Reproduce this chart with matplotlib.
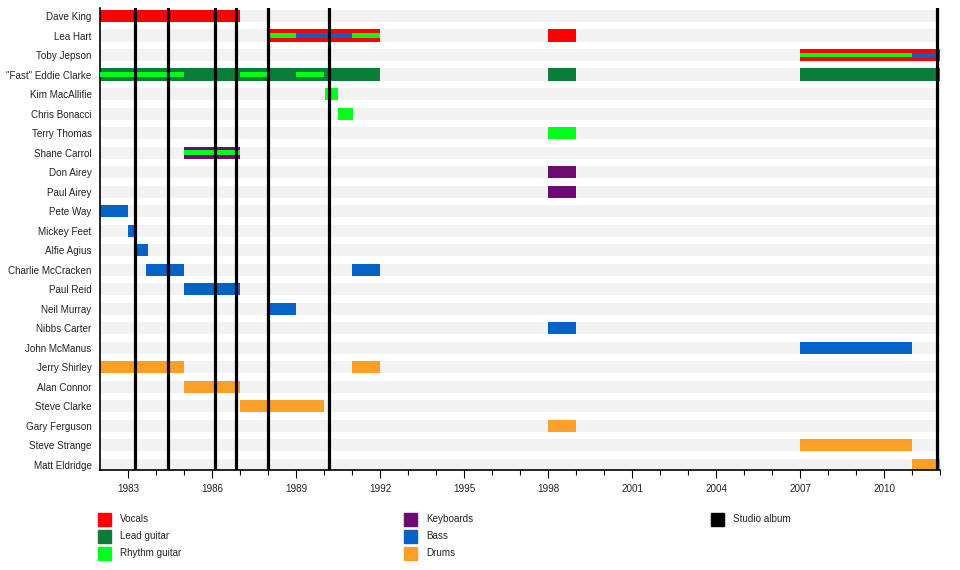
import matplotlib
matplotlib.use('Agg')
import matplotlib.pyplot as plt
from matplotlib.patches import Rectangle

plt.rcParams['font.family'] = ['Liberation Sans', 'DejaVu Sans']

## data
members = ['Dave King', 'Lea Hart', 'Toby Jepson', '"Fast" Eddie Clarke', 'Kim MacAllifie',
           'Chris Bonacci', 'Terry Thomas', 'Shane Carrol', 'Don Airey', 'Paul Airey',
           'Pete Way', 'Mickey Feet', 'Alfie Agius', 'Charlie McCracken', 'Paul Reid',
           'Neil Murray', 'Nibbs Carter', 'John McManus', 'Jerry Shirley', 'Alan Connor',
           'Steve Clarke', 'Gary Ferguson', 'Steve Strange', 'Matt Eldridge']

roles = ['Vocals', 'Lead guitar', 'Rhythm guitar', 'Keyboards', 'Bass', 'Drums']
role_colors = ['#ff0000', '#0a7d38', '#00ff1a', '#6e0a73', '#0563c8', '#fb9f28']

# (member, start, end, role) - main bars
main_spans = [
    ('Dave King', 1982, 1987, 'Vocals'),
    ('Lea Hart', 1988, 1992, 'Vocals'),
    ('Lea Hart', 1998, 1999, 'Vocals'),
    ('Toby Jepson', 2007, 2012, 'Vocals'),
    ('"Fast" Eddie Clarke', 1982, 1992, 'Lead guitar'),
    ('"Fast" Eddie Clarke', 1998, 1999, 'Lead guitar'),
    ('"Fast" Eddie Clarke', 2007, 2012, 'Lead guitar'),
    ('Kim MacAllifie', 1990.05, 1990.5, 'Rhythm guitar'),
    ('Chris Bonacci', 1990.5, 1991.05, 'Rhythm guitar'),
    ('Terry Thomas', 1998, 1999, 'Rhythm guitar'),
    ('Shane Carrol', 1985, 1987, 'Keyboards'),
    ('Don Airey', 1998, 1999, 'Keyboards'),
    ('Paul Airey', 1998, 1999, 'Keyboards'),
    ('Pete Way', 1982, 1983, 'Bass'),
    ('Mickey Feet', 1983, 1983.3, 'Bass'),
    ('Alfie Agius', 1983.3, 1983.7, 'Bass'),
    ('Charlie McCracken', 1983.65, 1985, 'Bass'),
    ('Charlie McCracken', 1991, 1992, 'Bass'),
    ('Paul Reid', 1985, 1987, 'Bass'),
    ('Neil Murray', 1988, 1989, 'Bass'),
    ('Nibbs Carter', 1998, 1999, 'Bass'),
    ('John McManus', 2007, 2011, 'Bass'),
    ('Jerry Shirley', 1982, 1985, 'Drums'),
    ('Jerry Shirley', 1991, 1992, 'Drums'),
    ('Alan Connor', 1985, 1987, 'Drums'),
    ('Steve Clarke', 1987, 1990, 'Drums'),
    ('Gary Ferguson', 1998, 1999, 'Drums'),
    ('Steve Strange', 2007, 2011, 'Drums'),
    ('Matt Eldridge', 2011, 2012, 'Drums'),
]

# secondary roles, drawn as thin stripes inside the main bar
inner_spans = [
    ('Lea Hart', 1988, 1989, 'Rhythm guitar'),
    ('Lea Hart', 1989, 1991, 'Bass'),
    ('Lea Hart', 1991, 1992, 'Rhythm guitar'),
    ('Toby Jepson', 2007, 2011, 'Rhythm guitar'),
    ('Toby Jepson', 2011, 2012, 'Bass'),
    ('"Fast" Eddie Clarke', 1982, 1985, 'Rhythm guitar'),
    ('"Fast" Eddie Clarke', 1987, 1988, 'Rhythm guitar'),
    ('"Fast" Eddie Clarke', 1989, 1990, 'Rhythm guitar'),
    ('Shane Carrol', 1985, 1987, 'Rhythm guitar'),
]

album_dates = [1983.25, 1984.43, 1986.1, 1986.86, 1988.0, 1990.18, 2011.9]

start_year = 1982
end_year = 2012
tick_years = list(range(1983, 2011, 3))

## drawing
fs = 7.1
fig = plt.figure(figsize=(9.6, 5.7), dpi=100)
ax = fig.add_axes([100 / 960, 1 - 470 / 570, 840 / 960, 462 / 570])

color_of = dict(zip(roles, role_colors))
row_of = {m: i for i, m in enumerate(members)}
bar_h = 0.62
inner_h = 0.22

# light grey band behind each row
for i in range(len(members)):
    ax.barh(i, end_year - start_year, left=start_year, height=bar_h,
            color='#f2f2f2', edgecolor='none', zorder=1)

for m, s, e, r in main_spans:
    ax.barh(row_of[m], e - s, left=s, height=bar_h, color=color_of[r],
            edgecolor='none', zorder=2)

for m, s, e, r in inner_spans:
    ax.barh(row_of[m], e - s, left=s, height=inner_h, color=color_of[r],
            edgecolor='none', zorder=3)

for d in album_dates:
    ax.axvline(d, color='black', lw=2.3, zorder=4)

ax.set_xlim(start_year, end_year)
ax.set_ylim(23.27, -0.41)
ax.set_yticks(range(len(members)))
ax.set_yticklabels(members, fontsize=fs, color='#222222')
ax.tick_params(axis='y', length=0, pad=6)

ax.set_xticks(tick_years)
ax.set_xticklabels([str(y) for y in tick_years], fontsize=fs, color='#222222')
ax.set_xticks(range(start_year + 1, end_year + 1), minor=True)
ax.tick_params(axis='x', which='major', length=6, width=0.8, pad=4)
ax.tick_params(axis='x', which='minor', length=3.5, width=0.8)

for side in ['top', 'right']:
    ax.spines[side].set_visible(False)
ax.spines['left'].set_linewidth(1.2)
ax.spines['bottom'].set_linewidth(1.2)

## legend
legend_cols = [[0, 1, 2], [3, 4, 5]]
col_x = [98, 404]
row_y = [519, 536, 553]
for cx, idxs in zip(col_x, legend_cols):
    for ry, k in zip(row_y, idxs):
        fig.patches.append(Rectangle((cx / 960, 1 - (ry + 6.5) / 570), 12.5 / 960, 13 / 570,
                                     transform=fig.transFigure, color=role_colors[k]))
        fig.text((cx + 22) / 960, 1 - ry / 570, roles[k], fontsize=fs,
                 va='center', ha='left', color='#222222')

fig.patches.append(Rectangle((711 / 960, 1 - (519 + 6.5) / 570), 12.5 / 960, 13 / 570,
                             transform=fig.transFigure, color='black'))
fig.text(733 / 960, 1 - 519 / 570, 'Studio album', fontsize=fs,
         va='center', ha='left', color='#222222')

fig.savefig('out.png', dpi=100)
